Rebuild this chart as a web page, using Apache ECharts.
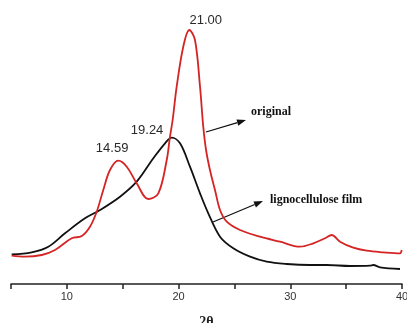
<!DOCTYPE html>
<html>
<head>
<meta charset="utf-8">
<script src="https://cdn.jsdelivr.net/npm/echarts@6/dist/echarts.min.js"></script>
<style>
html,body{margin:0;padding:0;background:#fff;}
#c{width:407px;height:323px;}
</style>
</head>
<body>
<div id="c"></div>
<script>
// 2θ (degrees)
var originalX = [5.06,6.25,7.75,8.94,10.43,11.33,12.07,12.67,13.26,13.86,14.61,15.36,16.25,17.29,18.19,18.94,19.23,19.47,19.83,20.42,20.96,21.47,21.92,22.21,22.46,22.81,23.26,23.71,24.31,25.50,27.29,29.08,30.87,32.06,33.11,33.71,34.45,35.64,36.84,38.33,39.82,39.97];
var originalY = [28.3,27.3,29,34,45.7,48,57.3,72.3,94,114,123.3,117.3,100.7,85,90.7,124,147.3,164,197.3,237.3,254,244,197.3,157.3,134,114,94,74,62.3,54,47.3,42.3,37.3,40.7,45.7,49,42.3,36.3,33.3,31.7,30.7,34];
var filmX = [5.06,6.85,8.34,9.83,11.62,12.97,14.76,16.25,17.74,18.79,19.39,20.13,21.02,21.92,22.66,23.71,24.90,26.40,27.89,29.68,31.77,33.26,35.35,37.14,37.43,38.03,39.82];
var filmY = [29.7,31.7,37.3,50.7,65.7,74,87.3,102.3,125.7,140.7,146.3,140.7,117.3,90.7,70.7,47.3,35.7,27.3,22.3,20,19,19,18,18.3,19,16.7,15];
var xTicks = [10,20,30,40];
var peakLabels = [
  {series:'original', x:21.00, y:254, text:'21.00'},
  {series:'original', x:14.59, y:123.3, text:'14.59'},
  {series:'film', x:19.24, y:146.3, text:'19.24'}
];
var seriesNames = ['original','lignocellulose film'];

function zip(a,b){return a.map(function(v,i){return [v,b[i]];});}

var chart = echarts.init(document.getElementById('c'), null, {renderer:'canvas'});

function mp(key, offset){
  return {
    symbol:'circle', symbolSize:1,
    itemStyle:{color:'rgba(0,0,0,0)'},
    label:{show:true, position:'inside', offset:offset, color:'#2a2a2a', fontSize:13, fontFamily:'Liberation Sans, Arial, sans-serif',
      formatter:function(p){return p.name;}},
    data: peakLabels.filter(function(p){return p.series===key;}).map(function(p){
      return {name:p.text, coord:[p.x,p.y]};
    })
  };
}

var original = mp('original', [0,0]);
original.data.forEach(function(d){
  if(d.name==='21.00') d.label={offset:[16,-10]};
  if(d.name==='14.59') d.label={offset:[-6,-12]};
});
var film = mp('film', [-23,-7]);

var option = {
  animation:false,
  backgroundColor:'#fff',
  grid:{left:11, right:5, top:0, bottom:39, containLabel:false, outerBoundsMode:'none'},
  xAxis:{
    type:'value', min:5, max:40, interval:5,
    name:'2θ', nameLocation:'middle', nameGap:31,
    nameTextStyle:{fontFamily:'Liberation Serif, Times New Roman, serif', fontWeight:'bold', fontSize:14, color:'#222'},
    axisLine:{show:true, onZero:false, lineStyle:{color:'#222', width:1.5}},
    axisTick:{show:true, inside:false, length:5, lineStyle:{color:'#222', width:1.5}},
    axisLabel:{color:'#333', fontSize:11, margin:7, fontFamily:'Liberation Sans, Arial, sans-serif',
      formatter:function(v){return xTicks.indexOf(v)>=0 ? String(v) : '';}},
    splitLine:{show:false}
  },
  yAxis:{type:'value', min:0, max:284, show:false, splitLine:{show:false}},
  series:[
    {name:seriesNames[1], type:'line', data:zip(filmX,filmY), smooth:0.35, showSymbol:false,
      lineStyle:{color:'#111', width:1.8}, markPoint:film, z:2},
    {name:seriesNames[0], type:'line', data:zip(originalX,originalY), smooth:0.35, showSymbol:false,
      lineStyle:{color:'#d42424', width:1.8}, markPoint:original, z:3}
  ]
};
chart.setOption(option);

function arrow(x1,y1,x2,y2){
  var ang = Math.atan2(y2-y1, x2-x1), L=9, W=3.2;
  var bx = x2 - L*Math.cos(ang), by = y2 - L*Math.sin(ang);
  var px = -Math.sin(ang), py = Math.cos(ang);
  return [
    {type:'line', shape:{x1:x1,y1:y1,x2:bx,y2:by}, style:{stroke:'#111', lineWidth:1.3}},
    {type:'polygon', shape:{points:[[x2,y2],[bx+px*W,by+py*W],[bx-px*W,by-py*W]]}, style:{fill:'#111'}}
  ];
}
var g = [];
g = g.concat(arrow(206,132,246,120));
g = g.concat(arrow(213,222,263,201));
g.push({type:'text', left:251, top:106, style:{text:'original', font:'bold 12px "Liberation Serif", "Times New Roman", serif', fill:'#111'}});
g.push({type:'text', left:270, top:194, style:{text:'lignocellulose film', font:'bold 12px "Liberation Serif", "Times New Roman", serif', fill:'#111'}});
chart.setOption({graphic:g});
</script>
</body>
</html>
